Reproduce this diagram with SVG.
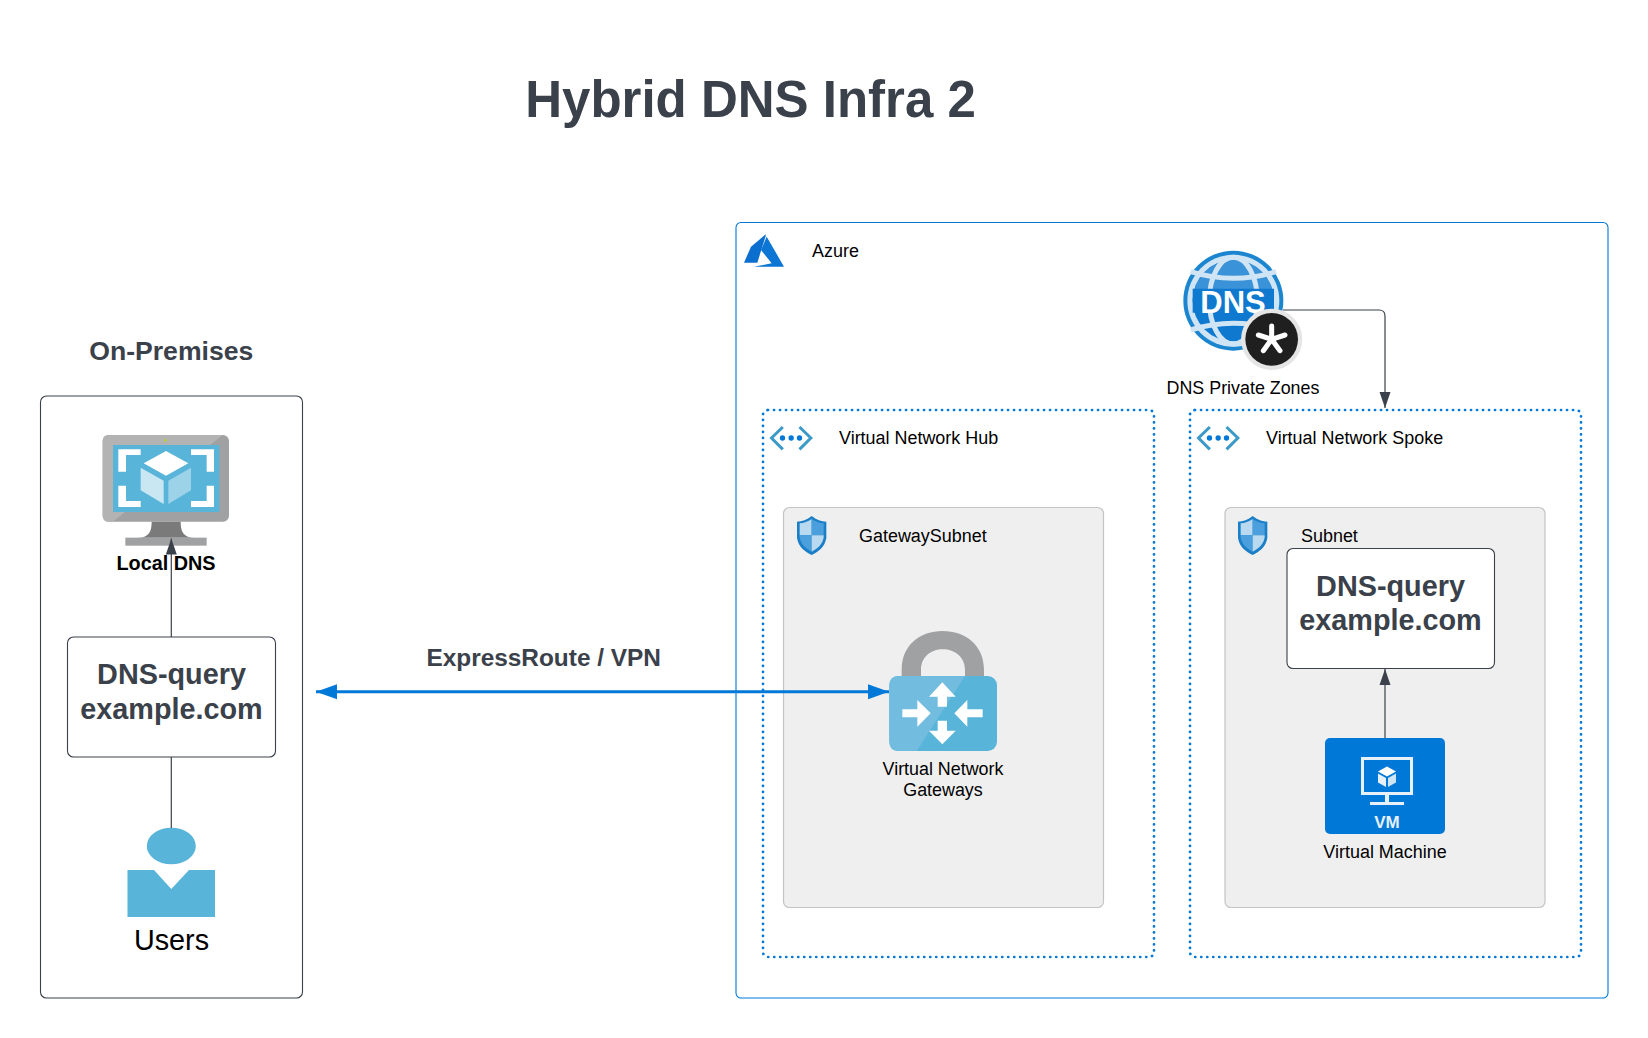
<svg xmlns="http://www.w3.org/2000/svg" xmlns:xlink="http://www.w3.org/1999/xlink" width="1648" height="1038" viewBox="0 0 1648 1038">
<style>
text{font-family:"Liberation Sans",Arial,sans-serif}
.m{text-anchor:middle}
.h{font-weight:700;fill:#3a414a}
.t{font-size:17.95px;fill:#000}
.q{font-size:28.8px;font-weight:700;fill:#3a414a;text-anchor:middle}
.box{fill:#fff;stroke:#3a414a;stroke-width:1.1}
.sub{fill:#efefef;stroke:#c4c4c4;stroke-width:1.2}
.dot{fill:none;stroke:#0078d7;stroke-width:2.7;stroke-dasharray:.1 5.900;stroke-linecap:round}
.con{fill:none;stroke:#3a414a;stroke-width:1.2}
.lnk{fill:none;stroke:#0078d7;stroke-width:3}
.w{fill:#fff}
</style>
<defs>
<marker id="dk" markerUnits="userSpaceOnUse" markerWidth="16" markerHeight="12" refX="16" refY="6" orient="auto-start-reverse"><path d="M0 .5L16 6L0 11.500Z" fill="#3a414a"/></marker>
<marker id="bl" markerUnits="userSpaceOnUse" markerWidth="22" markerHeight="16" refX="21" refY="8" orient="auto-start-reverse"><path d="M0 .5L21 8L0 15.500Z" fill="#0078d7"/></marker>
<g id="shield">
<path d="M44 0C30 12 15 16 0 17V66C4 92 24 108 44 117C64 108 84 92 88 66V17C73 16 58 12 44 0Z" fill="#1b7fc8"/>
<path d="M44 9V58H8V22C20 21 33 17 44 9Z" fill="#b9d9f0"/>
<path d="M44 9C55 17 68 21 80 22V58H44Z" fill="#4b9fdc"/>
<path d="M8 58H44V107C28 99 11 86 8 64Z" fill="#4b9fdc"/>
<path d="M44 58H80V64C77 86 60 99 44 107Z" fill="#b9d9f0"/>
</g>
<g id="vnet">
<path d="M37 0L3 33L37 67M87 0L121 33L87 67" fill="none" stroke="#3b9ac8" stroke-width="9"/>
<circle cx="36" cy="33" r="8" fill="#0078d7"/><circle cx="62" cy="33" r="8" fill="#0078d7"/><circle cx="87" cy="33" r="8" fill="#0078d7"/>
</g>
</defs>
<rect width="1648" height="1038" fill="#fff"/>
<text id="title" class="h m" x="750.500" y="117" font-size="51">Hybrid DNS Infra 2</text>

<g id="on-premises">
<text class="h m" x="171.300" y="360" font-size="26.600">On-Premises</text>
<rect class="box" x="40.500" y="396" width="262" height="602" rx="6"/>
</g>

<g id="local-dns" transform="translate(0 320) scale(.33333)">
<rect x="308" y="345" width="379" height="260" rx="18" fill="#a0a1a2"/>
<path d="M326 345H668L338 605H326Q308 605 308 587V363Q308 345 326 345Z" fill="#b3b3b3"/>
<rect x="339" y="375" width="319" height="201" fill="#59b4d9"/>
<circle cx="496" cy="361" r="4" fill="#b8d432"/>
<path d="M455 605H542C542 635 550 653 585 653H412C447 653 455 635 455 605Z" fill="#7a7a7a"/>
<rect x="376" y="653" width="244" height="24" fill="#a0a1a2"/>
<path class="w" d="M355 388H422V405H378V455H355ZM573 388H642V455H620V405H573ZM355 497H378V543H422V561H355ZM620 497H642V561H573V543H620Z"/>
<path class="w" d="M431 430L498 393L565 430L498 467Z"/>
<path d="M422 443L491 482V552L422 511Z" fill="#c9e6f3"/>
<path d="M505 482L573 443V511L505 552Z" fill="#9cd3e9"/>
<text class="m" x="498" y="750" font-size="59.500" font-weight="700" fill="#000">Local DNS</text>
</g>

<g id="query-onprem">
<rect class="box" x="67.500" y="637" width="208" height="120" rx="6"/>
<text class="q" x="171.500" y="684">DNS-query</text>
<text class="q" x="171.500" y="718.500">example.com</text>
</g>

<g id="users">
<ellipse cx="171.300" cy="846" rx="24.500" ry="18.300" fill="#59b4d9"/>
<path d="M127.500 870H154L171.300 889L189 870H215V917H127.500Z" fill="#59b4d9"/>
<text class="m" x="171.500" y="949.500" font-size="28.800" fill="#000">Users</text>
</g>

<g id="azure">
<rect x="736" y="222.500" width="872" height="775.500" rx="5" fill="#fff" stroke="#0078d7" stroke-width="1.100"/>
<g transform="translate(730 210) scale(.33333)">
<path d="M107 73L63 110L42 158H82L107 78Z" fill="#0b6fcf"/>
<path d="M110 80L162 170H72L125 160L93 120Z" fill="#0b76d4"/>
</g>
<text class="t" x="812" y="257">Azure</text>
</g>

<g id="dns-private-zones" transform="translate(1150 230) scale(.33333)">
<circle cx="250" cy="212" r="150" fill="#1b86cf"/>
<circle cx="250" cy="212" r="138" fill="#cfe4f5"/>
<circle cx="250" cy="212" r="122" fill="#0e79cf"/>
<path d="M128 212A122 122 0 0 1 372 212Z" fill="#3a93d8"/>
<path d="M122 125Q250 165 378 125M122 300Q250 260 378 300" fill="none" stroke="#cfe4f5" stroke-width="15"/>
<ellipse cx="250" cy="212" rx="72" ry="130" fill="none" stroke="#cfe4f5" stroke-width="15"/>
<path d="M128 212H372" stroke="#0e79cf" stroke-width="72"/>
<text class="m w" x="249" y="248" font-size="93" font-weight="700">DNS</text>
<circle cx="365" cy="328" r="92" fill="#e5e5e5"/>
<circle cx="365" cy="328" r="79" fill="#1f1f1f"/>
<path d="M365 288V328M365 328L325 315M365 328L405 315M365 328L340 362M365 328L390 362" stroke="#fff" stroke-width="15" stroke-linecap="round"/>
<text class="m" x="279" y="491" font-size="53.600" fill="#000">DNS Private Zones</text>
</g>

<g id="vnet-hub">
<rect class="dot" x="763" y="410" width="391" height="547" rx="5"/>
<use href="#vnet" xlink:href="#vnet" transform="translate(770.500 427) scale(.33333)"/>
<text class="t" x="839" y="444">Virtual Network Hub</text>
</g>
<g id="vnet-spoke">
<rect class="dot" x="1190" y="410" width="391" height="547" rx="5"/>
<use href="#vnet" xlink:href="#vnet" transform="translate(1197.500 427) scale(.33333)"/>
<text class="t" x="1266" y="444">Virtual Network Spoke</text>
</g>

<g id="gateway-subnet">
<rect class="sub" x="783.500" y="507.500" width="320" height="400" rx="6"/>
<use href="#shield" xlink:href="#shield" transform="translate(797 516) scale(.33333)"/>
<text class="t" x="859" y="542">GatewaySubnet</text>
</g>
<g id="subnet">
<rect class="sub" x="1225" y="507.500" width="320" height="400" rx="6"/>
<use href="#shield" xlink:href="#shield" transform="translate(1238 516) scale(.33333)"/>
<text class="t" x="1301" y="542">Subnet</text>
</g>

<g id="query-spoke">
<rect class="box" x="1287" y="548.500" width="207.500" height="120" rx="6"/>
<text class="q" x="1390.500" y="595.500">DNS-query</text>
<text class="q" x="1390.500" y="630">example.com</text>
</g>

<g id="virtual-machine">
<rect x="1325" y="738" width="120" height="96" rx="5" fill="#0078d7"/>
<rect x="1362.500" y="758.500" width="49" height="35" fill="none" stroke="#e6f1fb" stroke-width="3"/>
<path d="M1385 795H1389V802H1404V805H1370V802H1385Z" fill="#e6f1fb"/>
<path d="M1387 766.500L1396 771.500L1387 776.500L1378 771.500Z" fill="#fff"/>
<path d="M1378 773.500L1386 778V787L1378 782.500Z" fill="#e6f1fb"/>
<path d="M1388 778L1396 773.500V782.500L1388 787Z" fill="#cfe4f5"/>
<text class="m" x="1387" y="828" font-size="17" font-weight="700" fill="#e6f1fb">VM</text>
<text class="t m" x="1385" y="858">Virtual Machine</text>
</g>

<g id="virtual-network-gateway" transform="translate(860 620) scale(.33333)">
<path d="M125 170V150C125 75 180 33 248 33C316 33 372 75 372 150V170H315V150C315 112 285 88 248 88C212 88 183 112 183 150V170Z" fill="#a0a1a2"/>
<rect x="88" y="168" width="323" height="225" rx="28" fill="#59b4d9"/>
<path d="M116 168H315L170 393H116Q88 393 88 365V196Q88 168 116 168Z" fill="#72bddf"/>
<path class="w" d="M247 187L287 230H261V260H233V230H207ZM233 302H261V332H287L247 373L207 332H233ZM127 268H172V240L212 280L172 320V292H127ZM368 268H322V240L283 280L322 320V292H368Z"/>
<text class="m" x="249" y="465" font-size="53.600" fill="#000">Virtual Network</text>
<text class="m" x="249" y="529" font-size="53.600" fill="#000">Gateways</text>
</g>

<text id="link-label" class="h m" x="543.700" y="666" font-size="24.400">ExpressRoute / VPN</text>

<g id="connectors">
<path class="con" d="M171.300 637V538.500" marker-end="url(#dk)"/>
<path class="con" d="M171.300 757V828"/>
<path class="con" d="M1283 310H1379Q1385 310 1385 316V408" marker-end="url(#dk)"/>
<path class="con" d="M1385 738V669" marker-end="url(#dk)"/>
<path class="lnk" d="M316 691.700H889" marker-start="url(#bl)" marker-end="url(#bl)"/>
</g>
</svg>
